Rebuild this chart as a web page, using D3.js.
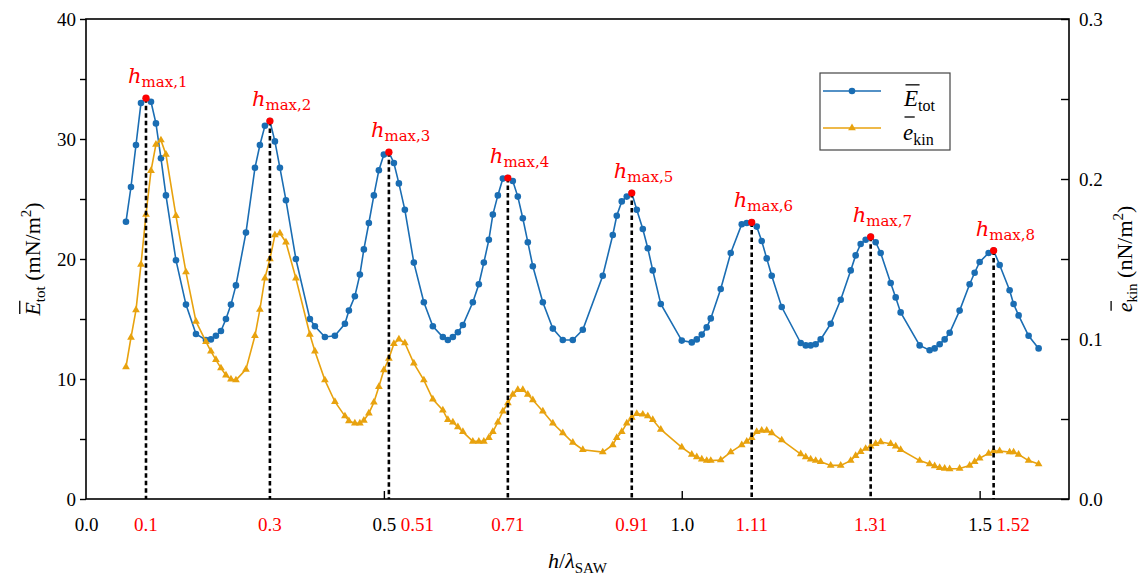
<!DOCTYPE html>
<html>
<head>
<meta charset="utf-8">
<script src="https://cdn.jsdelivr.net/npm/d3@7"></script>
<style>
  html, body { margin: 0; padding: 0; background: #ffffff; }
  svg { display: block; }
  text { white-space: pre; }
</style>
</head>
<body>
<svg id="chart" width="1143" height="580"></svg>
<script>
// Film thickness normalised by the SAW wavelength (shared by both series)
const hRatio = [
  0.0671,0.0755,0.0839,0.0923,0.1007,0.1091,0.1174,0.1258,0.1342,0.1510,
  0.1678,0.1846,0.2013,0.2097,0.2181,0.2265,0.2349,0.2433,0.2517,0.2685,
  0.2836,0.2919,0.3003,0.3087,0.3171,0.3255,0.3356,0.3523,0.3758,0.3842,
  0.4010,0.4178,0.4346,0.4413,0.4513,0.4597,0.4664,0.4748,0.4832,0.4916,
  0.5000,0.5084,0.5168,0.5252,0.5352,0.5503,0.5671,0.5822,0.5990,0.6074,
  0.6158,0.6242,0.6326,0.6493,0.6594,0.6678,0.6762,0.6829,0.6913,0.6997,
  0.7081,0.7164,0.7248,0.7332,0.7416,0.7500,0.7668,0.7836,0.8003,0.8171,
  0.8339,0.8674,0.8842,0.8909,0.8993,0.9077,0.9161,0.9245,0.9346,0.9430,
  0.9513,0.9648,1.0000,1.0168,1.0252,1.0336,1.0419,1.0487,1.0654,1.0822,
  1.1007,1.1091,1.1174,1.1258,1.1342,1.1426,1.1510,1.1678,1.1997,1.2081,
  1.2164,1.2248,1.2332,1.2500,1.2668,1.2836,1.2919,1.3003,1.3087,1.3171,
  1.3255,1.3339,1.3507,1.3591,1.3674,1.3993,1.4161,1.4245,1.4329,1.4413,
  1.4497,1.4664,1.4832,1.4916,1.5000,1.5151,1.5235,1.5336,1.5503,1.5570,
  1.5654,1.5822,1.5990
];

// Mean total energy density, mN/m^2 (left axis)
const eTot = [
  23.1,26.0,29.5,33.0,33.4,33.1,31.3,28.4,25.3,19.9,
  16.2,13.75,13.25,13.3,13.6,14.0,15.0,16.2,17.8,22.2,
  27.6,29.5,31.1,31.5,29.8,27.6,24.9,20.0,15.0,14.4,
  13.5,13.6,14.6,15.7,16.9,18.7,20.8,23.0,25.3,27.4,
  28.7,28.9,28.0,26.3,24.1,19.7,16.4,14.4,13.5,13.25,
  13.5,13.9,14.5,16.4,17.9,19.7,21.6,23.7,25.3,26.7,
  26.75,26.5,25.2,23.4,21.4,19.4,16.4,14.2,13.25,13.25,
  14.1,18.6,22.0,23.6,24.8,25.2,25.5,24.1,22.5,20.9,
  19.05,16.25,13.2,13.05,13.3,13.7,14.3,15.05,17.5,20.5,
  22.9,23.0,23.05,22.7,21.5,20.05,18.6,16.0,13.0,12.8,
  12.8,12.9,13.3,14.6,16.6,19.05,20.3,21.25,21.6,21.85,
  21.4,20.5,18.0,16.8,15.55,12.8,12.4,12.55,12.9,13.3,
  13.85,15.7,17.9,18.85,19.75,20.5,20.7,19.5,17.4,16.25,
  15.3,13.6,12.55
];

// Mean kinetic energy density, nN/m^2 (right axis)
const eKin = [
  0.0825,0.1009,0.1181,0.1466,0.1778,0.2051,0.2216,0.2243,0.2153,0.1770,
  0.1418,0.1110,0.0983,0.0923,0.0870,0.0818,0.0773,0.0748,0.0743,0.0810,
  0.1020,0.1185,0.1380,0.1500,0.1650,0.1661,0.1605,0.1380,0.1028,0.0923,
  0.0743,0.0608,0.0518,0.0488,0.0473,0.0473,0.0491,0.0536,0.0604,0.0701,
  0.0806,0.0878,0.0971,0.0998,0.0975,0.0848,0.0743,0.0623,0.0555,0.0495,
  0.0480,0.0450,0.0420,0.0360,0.0360,0.0360,0.0383,0.0420,0.0480,0.0548,
  0.0600,0.0653,0.0683,0.0683,0.0653,0.0619,0.0548,0.0473,0.0413,0.0353,
  0.0308,0.0293,0.0338,0.0383,0.0420,0.0473,0.0510,0.0533,0.0529,0.0518,
  0.0495,0.0435,0.0323,0.0278,0.0263,0.0248,0.0240,0.0240,0.0244,0.0293,
  0.0338,0.0360,0.0383,0.0420,0.0428,0.0428,0.0413,0.0368,0.0281,0.0263,
  0.0248,0.0240,0.0233,0.0210,0.0210,0.0240,0.0270,0.0296,0.0315,0.0330,
  0.0345,0.0356,0.0345,0.0330,0.0308,0.0240,0.0218,0.0206,0.0195,0.0191,
  0.0188,0.0191,0.0210,0.0233,0.0255,0.0285,0.0300,0.0300,0.0293,0.0293,
  0.0278,0.0240,0.0218
];

// Thicknesses at which E_tot peaks, as printed under the axis
const peakLabels = ["0.1","0.3","0.51","0.71","0.91","1.11","1.31","1.52"];
const xTicks = [0.0, 0.5, 1.0, 1.5];
const yLeftTicks = [0, 10, 20, 30, 40];
const yLeftMinor = [5, 15, 25, 35];
const yRightTicks = [0.0, 0.1, 0.2, 0.3];
const yRightMinor = [0.05, 0.15, 0.25];

const BLUE = "#1a6db3", ORANGE = "#e8a20e", RED = "#ff0000";
const SERIF = "Liberation Serif, Times New Roman, serif";
const MATH = "DejaVu Serif, Liberation Serif, serif";

const svg = d3.select("#chart");
const plot = { left: 86, right: 1069, top: 19, bottom: 499 };

const x = d3.scaleLinear().domain([0, 1.65]).range([plot.left, plot.right]);
const yL = d3.scaleLinear().domain([0, 40]).range([plot.bottom, plot.top]);
const yR = d3.scaleLinear().domain([0, 0.3]).range([plot.bottom, plot.top]);

svg.append("rect").attr("width", 1143).attr("height", 580).attr("fill", "#fff");

const data = hRatio.map((h, i) => ({ h, E: eTot[i], e: eKin[i] }));

// locate each E_tot maximum near the printed thickness
const peaks = peakLabels.map((lab, k) => {
  const v = +lab;
  const near = data.filter(d => Math.abs(d.h - v) < 0.05);
  const best = near.reduce((a, b) => (b.E > a.E ? b : a));
  return { label: lab, k: k + 1, h: best.h, E: best.E };
});

function styleAxis(g) {
  g.attr("font-family", null).attr("font-size", null);
  g.selectAll("text").style("font-family", SERIF).style("font-size", "19px").attr("fill", "#000");
  g.selectAll("line").attr("stroke", "#000").attr("stroke-width", 1.4);
  g.select(".domain").remove();
}

// left axis (ticks outward)
const gL = svg.append("g").attr("transform", `translate(${plot.left},0)`);
gL.append("g").call(d3.axisLeft(yL).tickValues(yLeftTicks).tickSize(6).tickPadding(4).tickFormat(d3.format("d"))).call(styleAxis);
gL.append("g").call(d3.axisLeft(yL).tickValues(yLeftMinor).tickSize(6).tickFormat("")).call(styleAxis);

// right axis (ticks inward)
const gR = svg.append("g").attr("transform", `translate(${plot.right},0)`);
gR.append("g").call(d3.axisRight(yR).tickValues(yRightTicks).tickSizeInner(-8).tickPadding(10).tickFormat(d3.format(".1f"))).call(styleAxis);
gR.append("g").call(d3.axisRight(yR).tickValues(yRightMinor).tickSizeInner(-8).tickFormat("")).call(styleAxis);

// bottom axis (ticks inward)
const gB = svg.append("g").attr("transform", `translate(0,${plot.bottom})`);
gB.call(d3.axisBottom(x).tickValues(xTicks).tickSizeInner(-8).tickPadding(0).tickFormat(d3.format(".1f"))).call(styleAxis);
gB.selectAll(".tick text").attr("y", 32).attr("dy", 0);
gB.selectAll(".tick").filter(d => d === 0).select("line").remove();

// red peak-position labels on the x axis
const blackLabelHalf = {};
gB.selectAll(".tick text").each(function (d) { blackLabelHalf[d] = this.getComputedTextLength() / 2; });
peaks.forEach(p => {
  const px = x(p.h);
  const t = svg.append("text").style("font-family", SERIF).style("font-size", "19px").attr("fill", RED)
    .attr("y", plot.bottom + 32).text(p.label);
  const clash = xTicks.find(v => Math.abs(x(v) - px) < 22);
  if (clash !== undefined) {
    t.attr("x", x(clash) + blackLabelHalf[clash] + 5).attr("text-anchor", "start");
  } else {
    t.attr("x", px).attr("text-anchor", "middle");
  }
});

// series lines
const lineE = d3.line().x(d => x(d.h)).y(d => yL(d.E));
const lineK = d3.line().x(d => x(d.h)).y(d => yR(d.e));

svg.append("path").datum(data).attr("d", lineE).attr("fill", "none").attr("stroke", BLUE).attr("stroke-width", 1.6);
svg.append("g").selectAll("circle").data(data).join("circle")
  .attr("cx", d => x(d.h)).attr("cy", d => yL(d.E)).attr("r", 3.3).attr("fill", BLUE);

svg.append("path").datum(data).attr("d", lineK).attr("fill", "none").attr("stroke", ORANGE).attr("stroke-width", 1.6);
const tri = d3.symbol(d3.symbolTriangle, 26);
svg.append("g").selectAll("path").data(data).join("path")
  .attr("d", tri).attr("transform", d => `translate(${x(d.h)},${yR(d.e)})`).attr("fill", ORANGE);

// dashed drop lines from each maximum
svg.append("g").selectAll("line").data(peaks).join("line")
  .attr("x1", d => x(d.h)).attr("x2", d => x(d.h))
  .attr("y1", d => yL(d.E)).attr("y2", plot.bottom)
  .attr("stroke", "#000").attr("stroke-width", 2.6).attr("stroke-dasharray", "4.5,3");

svg.append("g").selectAll("circle").data(peaks).join("circle")
  .attr("cx", d => x(d.h)).attr("cy", d => yL(d.E)).attr("r", 3.6).attr("fill", RED);

// h_max,k annotations
peaks.forEach(p => {
  const t = svg.append("text").style("font-family", MATH).attr("fill", RED)
    .attr("x", x(p.h) - 18).attr("y", yL(p.E) - 15);
  t.append("tspan").attr("font-style", "italic").attr("font-size", 21).text("h");
  t.append("tspan").attr("font-size", 15).attr("dy", 4).text("max," + p.k);
});

// plot frame
svg.append("rect").attr("x", plot.left).attr("y", plot.top)
  .attr("width", plot.right - plot.left).attr("height", plot.bottom - plot.top)
  .attr("fill", "none").attr("stroke", "#000").attr("stroke-width", 1.6);

// symbol with an overbar and subscript, optional unit tail
function barSymbol(parent, o) {
  const t = parent.append("text").style("font-family", SERIF).attr("font-size", o.fs).attr("fill", "#000");
  t.append("tspan").attr("font-style", "italic").text(o.letter);
  t.append("tspan").attr("font-size", o.subFs).attr("dy", o.fs * 0.22).text(o.sub);
  if (o.tail) {
    t.append("tspan").attr("dy", -o.fs * 0.22).text(o.tail);
    t.append("tspan").attr("font-size", o.subFs).attr("dy", -o.fs * 0.4).text(o.sup);
    t.append("tspan").attr("dy", o.fs * 0.4).text(o.tailEnd);
  }
  if (o.center) {
    const len = t.node().getComputedTextLength();
    t.attr("x", -len / 2);
  }
  const ext = t.node().getExtentOfChar(0);
  parent.append("line")
    .attr("x1", ext.x + 1.5).attr("x2", ext.x + ext.width + 1.5)
    .attr("y1", -o.fs * o.rise).attr("y2", -o.fs * o.rise)
    .attr("stroke", "#000").attr("stroke-width", 1.3);
}

// axis titles
barSymbol(svg.append("g").attr("transform", "translate(40,259) rotate(-90)"),
  { letter: "E", sub: "tot", tail: " (mN/m", sup: "2", tailEnd: ")", fs: 22, subFs: 15, rise: 0.92, center: true });
barSymbol(svg.append("g").attr("transform", "translate(1132,259) rotate(-90)"),
  { letter: "e", sub: "kin", tail: " (nN/m", sup: "2", tailEnd: ")", fs: 22, subFs: 15, rise: 0.95, center: true });

const xt = svg.append("text").style("font-family", SERIF).attr("font-size", 22).attr("fill", "#000")
  .attr("x", (plot.left + plot.right) / 2).attr("y", 568).attr("text-anchor", "middle");
xt.append("tspan").attr("font-style", "italic").text("h");
xt.append("tspan").text("/");
xt.append("tspan").attr("font-style", "italic").text("λ");
xt.append("tspan").attr("font-size", 15).attr("dy", 5).text("SAW");

// legend
const lg = svg.append("g");
lg.append("rect").attr("x", 820).attr("y", 73).attr("width", 130).attr("height", 77)
  .attr("fill", "#fff").attr("stroke", "#444").attr("stroke-width", 1.2);
lg.append("line").attr("x1", 823).attr("x2", 881).attr("y1", 91).attr("y2", 91).attr("stroke", BLUE).attr("stroke-width", 1.6);
lg.append("circle").attr("cx", 852).attr("cy", 91).attr("r", 3.3).attr("fill", BLUE);
lg.append("line").attr("x1", 823).attr("x2", 881).attr("y1", 128).attr("y2", 128).attr("stroke", ORANGE).attr("stroke-width", 1.6);
lg.append("path").attr("d", tri).attr("transform", "translate(852,128)").attr("fill", ORANGE);
barSymbol(lg.append("g").attr("transform", "translate(904,106)"),
  { letter: "E", sub: "tot", fs: 23, subFs: 16, rise: 0.92 });
barSymbol(lg.append("g").attr("transform", "translate(903,140)"),
  { letter: "e", sub: "kin", fs: 23, subFs: 16, rise: 1.0 });
</script>
</body>
</html>
